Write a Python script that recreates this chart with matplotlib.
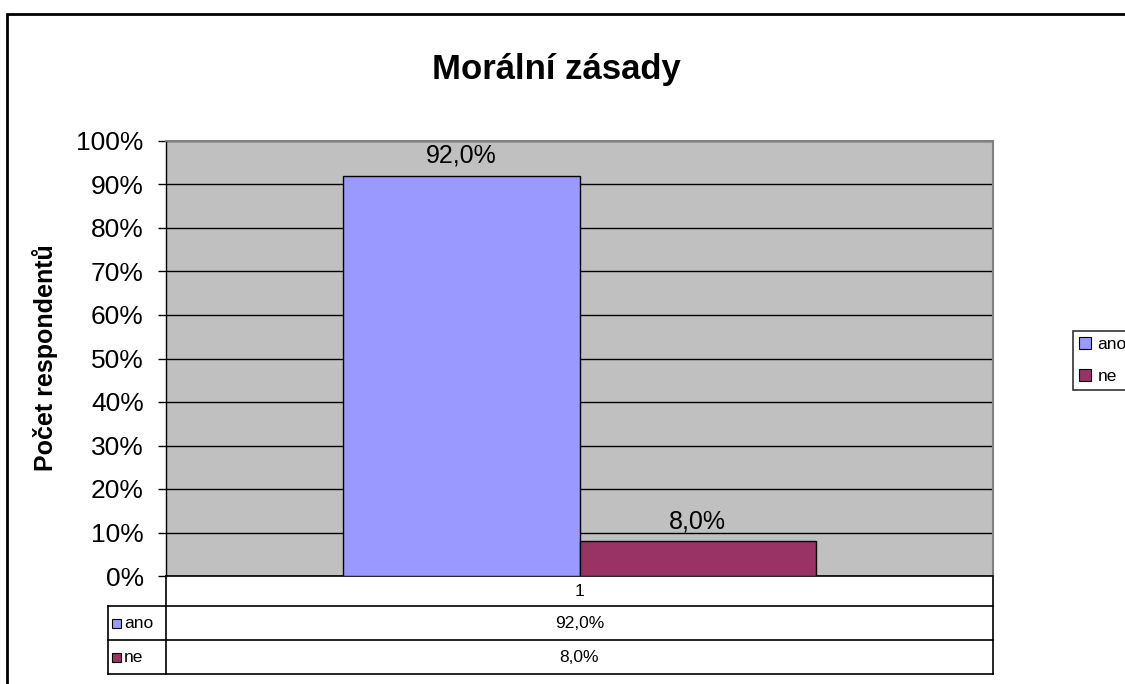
import matplotlib.pyplot as plt
from matplotlib.patches import Rectangle
from matplotlib.ticker import PercentFormatter

plt.rcParams['font.family'] = ['Liberation Sans', 'DejaVu Sans']

title = 'Morální zásady'
ylabel = 'Počet respondentů'
category = '1'
series = ['ano', 'ne']
values = [92.0, 8.0]
colors = ['#9999FF', '#993366']

fig = plt.figure(figsize=(11.25, 6.84), dpi=100)
ax = fig.add_axes([166 / 1125, 1 - 576 / 684, 827 / 1125, 435 / 684])
ax.set_facecolor('#C0C0C0')

w = 0.2854
xs = [0.5 - w / 2, 0.5 + w / 2]
for x, v, c, s in zip(xs, values, colors, series):
    ax.bar(x, v, width=w, color=c, edgecolor='black', linewidth=1, label=s, zorder=3)
    ax.annotate(f'{v:.1f}'.replace('.', ',') + '%', (x, v), xytext=(0, 14.5),
                textcoords='offset points', ha='center', va='center', fontsize=18)

ax.set_xlim(0, 1)
ax.set_ylim(0, 100)
ax.set_yticks(range(0, 101, 10))
ax.yaxis.set_major_formatter(PercentFormatter(decimals=0))
ax.tick_params(axis='y', labelsize=19, length=6, width=1, pad=10, color='black')
ax.set_xticks([])
ax.grid(axis='y', color='black', linewidth=1, zorder=1)
ax.set_axisbelow(True)
for side in ['top', 'right']:
    ax.spines[side].set_color('#808080')
    ax.spines[side].set_linewidth(1.5)
ax.spines['left'].set_linewidth(1)
ax.spines['bottom'].set_linewidth(1.2)

# data table under the plot
tr = ax.transAxes
H = 435.0
def ya(py):
    return (576 - py) / H
def xa(px):
    return (px - 166) / 827.0

lk = dict(color='black', linewidth=1.2, transform=tr, clip_on=False)
ax.plot([0, 0], [ya(576), ya(674)], **lk)
ax.plot([1, 1], [ya(576), ya(674)], **lk)
ax.plot([xa(108), xa(108)], [ya(606), ya(674)], **lk)
for py in [606, 640, 674]:
    ax.plot([xa(108), 1], [ya(py), ya(py)], **lk)

ax.text(0.5, ya(591), category, transform=tr, ha='center', va='center', fontsize=12.5)
for py, s, v, c in zip([623, 657], series, values, colors):
    ax.add_patch(Rectangle((xa(112), ya(py + 4.5)), 9 / 827, 9 / H, transform=tr,
                           facecolor=c, edgecolor='black', linewidth=0.8, clip_on=False))
    ax.text(xa(124), ya(py), s, transform=tr, ha='left', va='center', fontsize=12.5)
    ax.text(0.5, ya(py), f'{v:.1f}'.replace('.', ',') + '%', transform=tr,
            ha='center', va='center', fontsize=12.5)

fig.text(556 / 1125, 1 - 69 / 684, title, ha='center', va='center', fontsize=25, fontweight='bold')
fig.text(45 / 1125, 1 - 358 / 684, ylabel, ha='center', va='center', rotation=90,
         fontsize=18, fontweight='bold')

leg = fig.legend(loc='upper left', bbox_to_anchor=(1073 / 1125, 1 - 331 / 684),
                 fontsize=12.5, frameon=True, fancybox=False, edgecolor='black',
                 handlelength=0.7, handleheight=0.7, handletextpad=0.35,
                 borderpad=0.35, labelspacing=0.95, borderaxespad=0)
leg.get_frame().set_linewidth(1.2)
for h in leg.legend_handles:
    h.set_linewidth(0.8)

fig.patches.append(Rectangle((7 / 1125, -0.1), 1.2, 1.1 - 14 / 684, transform=fig.transFigure,
                             fill=False, edgecolor='black', linewidth=2))

fig.savefig('out.png', dpi=100)
